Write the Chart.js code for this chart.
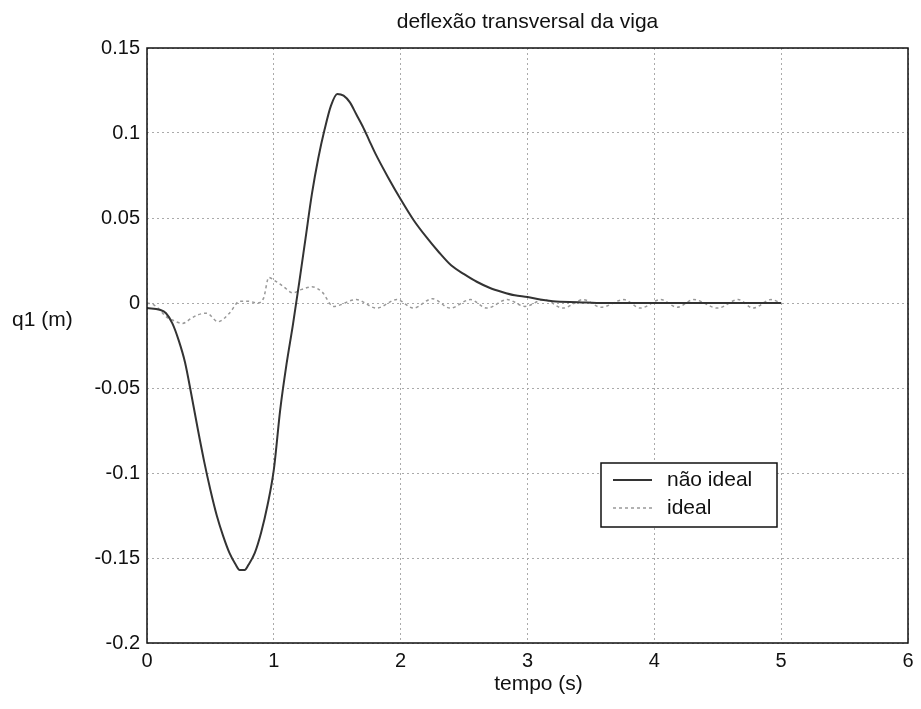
<!DOCTYPE html>
<html>
<head>
<meta charset="utf-8">
<script src="https://cdn.jsdelivr.net/npm/chart.js@4"></script>
<style>
  body { margin: 0; background: #fff; }
  canvas { display: block; }
</style>
</head>
<body>
<canvas id="chart" width="921" height="709"></canvas>
<script>
// dados
const tempoNaoIdeal = [0, 0.1, 0.15, 0.2, 0.25, 0.3, 0.35, 0.4, 0.45, 0.5, 0.55, 0.6, 0.65, 0.7, 0.73, 0.77, 0.8, 0.85, 0.9, 0.95,
  1.0, 1.05, 1.1, 1.15, 1.2, 1.25, 1.3, 1.35, 1.4, 1.45, 1.5, 1.55, 1.6, 1.65, 1.7, 1.75, 1.8, 1.9, 2.0, 2.1,
  2.2, 2.3, 2.4, 2.5, 2.6, 2.7, 2.8, 2.9, 3.0, 3.1, 3.2, 3.4, 3.6, 3.8, 4.0, 4.3, 4.6, 5.0];
const q1NaoIdeal = [-0.003, -0.004, -0.006, -0.012, -0.022, -0.035, -0.054, -0.074, -0.093, -0.11, -0.125, -0.137, -0.147, -0.154, -0.157, -0.157, -0.154, -0.147, -0.135, -0.119,
  -0.098, -0.063, -0.036, -0.013, 0.012, 0.038, 0.064, 0.085, 0.102, 0.116, 0.123, 0.122, 0.118, 0.111, 0.104, 0.096, 0.088, 0.074, 0.061, 0.049,
  0.039, 0.03, 0.022, 0.017, 0.0125, 0.009, 0.0065, 0.0045, 0.0035, 0.002, 0.001, 0.0005, 0, 0, 0, 0, 0, 0];

const tempoIdeal = [0, 0.05, 0.1, 0.15, 0.2, 0.28, 0.35, 0.4, 0.47, 0.56, 0.65, 0.73, 0.8, 0.87, 0.92, 0.96, 1.0, 1.07, 1.15, 1.22,
  1.3, 1.38, 1.47, 1.65, 1.81, 1.97, 2.1, 2.25, 2.39, 2.55, 2.68, 2.84, 2.98, 3.13, 3.28, 3.44, 3.58, 3.76, 3.89, 4.05,
  4.18, 4.31, 4.5, 4.66, 4.78, 4.92, 5.0];
const q1Ideal = [0, -0.001, -0.004, -0.008, -0.01, -0.012, -0.009, -0.007, -0.006, -0.011, -0.006, 0.001, 0.001, 0, 0.003, 0.015, 0.0135, 0.01, 0.006, 0.008,
  0.0095, 0.0065, -0.002, 0.002, -0.003, 0.002, -0.003, 0.0025, -0.003, 0.002, -0.003, 0.002, -0.002, 0.002, -0.003, 0.002, -0.0025, 0.002, -0.003, 0.002,
  -0.0025, 0.002, -0.003, 0.002, -0.003, 0.002, 0];

const seriesLabels = ['não ideal', 'ideal'];
const titulo = 'deflexão transversal da viga';
const xTitulo = 'tempo (s)';
const yTitulo = 'q1 (m)';

const FONT = '"Liberation Sans", Arial, sans-serif';

const toPoints = (xs, ys) => xs.map((x, i) => ({ x, y: ys[i] }));

// título, rótulos dos eixos, caixa e legenda ao estilo do MATLAB
const matlabDecor = {
  id: 'matlabDecor',
  afterDraw(chart) {
    const { ctx, chartArea: a } = chart;
    const cx = (a.left + a.right) / 2;
    ctx.save();
    ctx.strokeStyle = '#111';
    ctx.lineWidth = 1.5;
    ctx.strokeRect(a.left, a.top, a.right - a.left, a.bottom - a.top);

    ctx.fillStyle = '#111';
    ctx.font = '21px ' + FONT;
    ctx.textAlign = 'center';
    ctx.textBaseline = 'middle';
    ctx.fillText(titulo, cx, 22);
    ctx.fillText(xTitulo, cx + 11, 684);
    ctx.textAlign = 'left';
    ctx.fillText(yTitulo, 12, 320);

    // legenda
    const lx = 601, ly = 463, lw = 176, lh = 64;
    ctx.fillStyle = '#fff';
    ctx.fillRect(lx, ly, lw, lh);
    ctx.strokeStyle = '#111';
    ctx.lineWidth = 1.5;
    ctx.strokeRect(lx, ly, lw, lh);
    chart.data.datasets.forEach((ds, i) => {
      const y = 480 + i * 28;
      ctx.strokeStyle = ds.borderColor;
      ctx.lineWidth = ds.borderWidth;
      ctx.setLineDash(ds.borderDash || []);
      ctx.beginPath();
      ctx.moveTo(613, y);
      ctx.lineTo(652, y);
      ctx.stroke();
      ctx.setLineDash([]);
      ctx.fillStyle = '#111';
      ctx.font = '21px ' + FONT;
      ctx.textBaseline = 'middle';
      ctx.fillText(ds.label, 667, y);
    });
    ctx.restore();
  }
};

const chart = new Chart(document.getElementById('chart').getContext('2d'), {
  type: 'line',
  data: {
    datasets: [{
      label: seriesLabels[0],
      data: toPoints(tempoNaoIdeal, q1NaoIdeal),
      borderColor: '#333',
      borderWidth: 2,
      pointRadius: 0,
      cubicInterpolationMode: 'monotone'
    }, {
      label: seriesLabels[1],
      data: toPoints(tempoIdeal, q1Ideal),
      borderColor: '#999',
      borderWidth: 1.5,
      borderDash: [3, 3],
      pointRadius: 0,
      cubicInterpolationMode: 'monotone'
    }]
  },
  options: {
    responsive: false,
    animation: false,
    layout: { padding: { top: 48, right: 13, left: 0, bottom: 0 } },
    plugins: {
      legend: { display: false },
      title: { display: false },
      tooltip: { enabled: false }
    },
    scales: {
      x: {
        type: 'linear',
        min: 0,
        max: 6,
        ticks: { stepSize: 1, color: '#111', padding: 6, font: { family: FONT, size: 20 } },
        grid: { color: '#aaa', drawTicks: false, tickBorderDash: [2, 3] },
        border: { display: false, dash: [2, 3] },
        afterFit: s => { s.height = 66; }
      },
      y: {
        min: -0.2,
        max: 0.15,
        ticks: {
          stepSize: 0.05,
          color: '#111',
          padding: 7,
          font: { family: FONT, size: 20 },
          callback: v => String(parseFloat(v.toFixed(2)))
        },
        grid: { color: '#aaa', drawTicks: false },
        border: { display: false, dash: [2, 3] },
        afterFit: s => { s.width = 147; }
      }
    }
  },
  plugins: [matlabDecor]
});
</script>
</body>
</html>
